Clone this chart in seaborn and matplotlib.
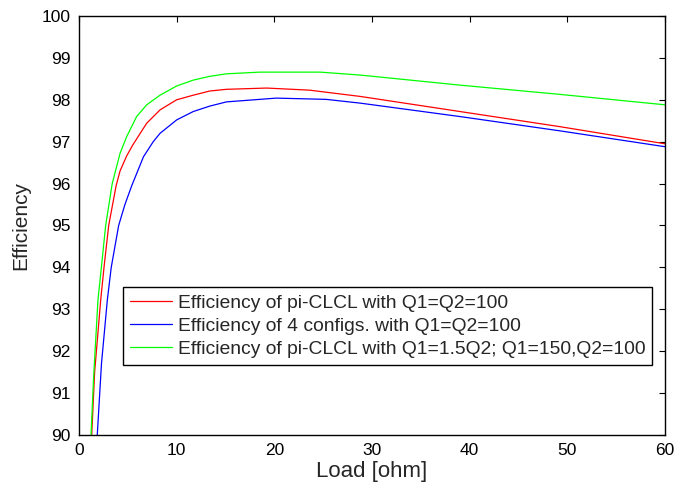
import pandas as pd
import matplotlib
matplotlib.use("Agg")
import matplotlib.pyplot as plt
import seaborn as sns

# ---------------------------------------------------------------------------
# datos
# ---------------------------------------------------------------------------
lbl_red = "Efficiency of pi-CLCL with Q1=Q2=100"
lbl_blue = "Efficiency of 4 configs. with Q1=Q2=100"
lbl_green = "Efficiency of pi-CLCL with Q1=1.5Q2; Q1=150,Q2=100"

load_red = [1.3, 1.6, 2.22, 2.56, 3.04, 3.8, 4.2, 4.88, 5.5, 6.93, 8.3, 10.0, 11.7, 13.4,
            15.1, 19.2, 23.6, 28.8, 39.0, 49.2, 60]
eff_red = [90, 91.5, 93.22, 94, 95, 95.95, 96.3, 96.66, 96.92, 97.44, 97.76, 98.0, 98.11, 98.21,
           98.25, 98.28, 98.23, 98.08, 97.72, 97.36, 96.95]

load_blue = [1.87, 2.3, 2.9, 3.3, 4.06, 4.7, 5.4, 6.6, 7.6, 8.3, 10.0, 11.7, 13.4, 15.1,
             20.2, 25.3, 28.8, 39.0, 49.2, 60]
eff_blue = [90, 91.7, 93.22, 94, 95, 95.5, 95.95, 96.64, 97.0, 97.2, 97.52, 97.72, 97.85, 97.95,
            98.04, 98.01, 97.92, 97.6, 97.26, 96.88]

load_green = [1.23, 1.5, 1.94, 2.29, 2.73, 3.4, 4.2, 4.88, 5.9, 6.93, 8.3, 10.0, 11.7, 13.4,
              15.1, 18.5, 24.7, 28.8, 39.0, 49.2, 60]
eff_green = [90, 91.4, 93.22, 94, 95, 96, 96.72, 97.12, 97.6, 97.88, 98.11, 98.33, 98.47, 98.56,
             98.62, 98.66, 98.66, 98.59, 98.35, 98.13, 97.88]

df = pd.concat([
    pd.DataFrame({"load": load_red, "eff": eff_red, "serie": lbl_red}),
    pd.DataFrame({"load": load_blue, "eff": eff_blue, "serie": lbl_blue}),
    pd.DataFrame({"load": load_green, "eff": eff_green, "serie": lbl_green}),
], ignore_index=True)

# ---------------------------------------------------------------------------
# grafico
# ---------------------------------------------------------------------------
sns.set_style("white")
plt.rcParams['font.family'] = ['Liberation Sans', 'DejaVu Sans']

fig = plt.figure(figsize=(6.77, 4.92), dpi=100)
ax = fig.add_axes([0.1167, 0.1159, 0.8656, 0.8516])

sns.lineplot(data=df, x="load", y="eff", hue="serie", sort=False, estimator=None,
             palette={lbl_red: "#ff0000", lbl_blue: "#0000ff", lbl_green: "#00ff00"},
             linewidth=0.9, ax=ax)

ax.set_xlim(0, 60)
ax.set_ylim(90, 100)
ax.set_xticks(range(0, 61, 10))
ax.set_yticks(range(90, 101))
ax.tick_params(direction="in", length=4, width=0.8, top=True, right=True,
               labelsize=12.5, colors="black", pad=6)
for s in ax.spines.values():
    s.set_color("black")
    s.set_linewidth(1.0)

ax.set_xlabel("Load [ohm]", fontsize=16, labelpad=2)
ax.set_ylabel("Efficiency", fontsize=15, labelpad=8)

leg = ax.legend(loc="lower left", bbox_to_anchor=(0.075, 0.167), fontsize=13.9,
                frameon=True, fancybox=False, edgecolor="black", framealpha=1,
                handlelength=2.2, handletextpad=0.3, borderpad=0.35,
                labelspacing=0.3, borderaxespad=0)
leg.get_frame().set_linewidth(1.0)
for h in leg.get_lines():
    h.set_linewidth(0.9)

fig.savefig("out.png", dpi=100)
